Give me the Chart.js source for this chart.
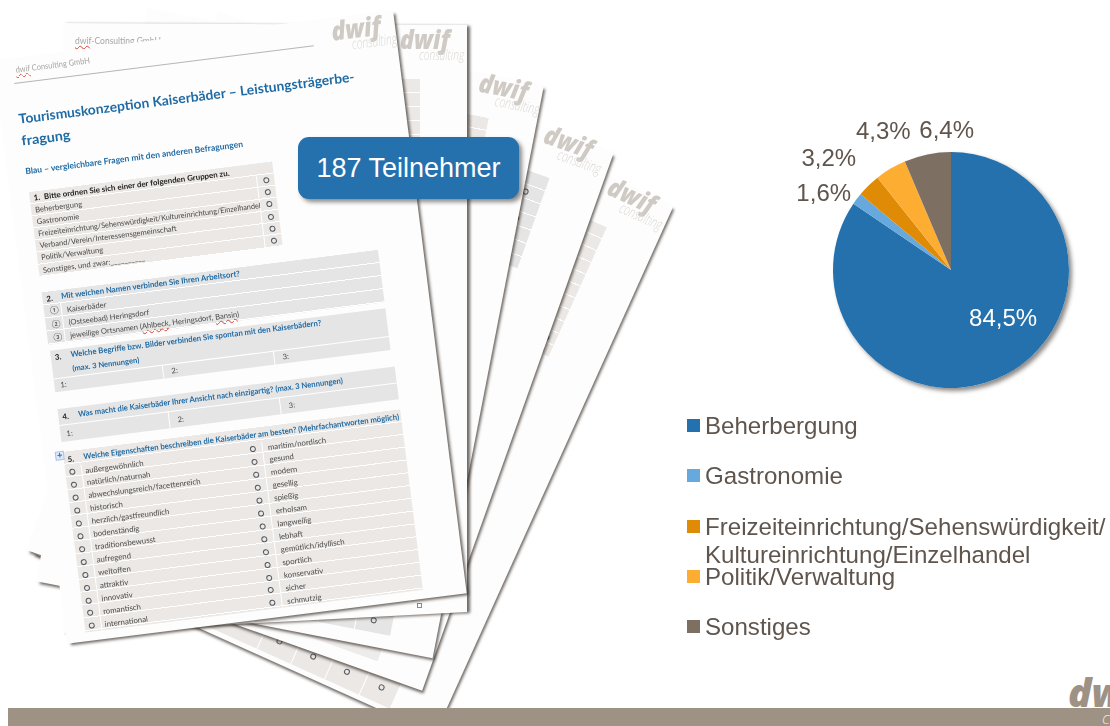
<!DOCTYPE html>
<html lang="de">
<head>
<meta charset="utf-8">
<title>187 Teilnehmer</title>
<script src="https://cdn.jsdelivr.net/npm/chart.js@4"></script>
<style>
html,body{margin:0;padding:0;width:1110px;height:726px;overflow:hidden;background:#fff;font-family:"Liberation Sans",Arial,sans-serif}
div{position:absolute;box-sizing:border-box}
.t{white-space:nowrap;font-family:Lato,"Noto Sans",sans-serif;transform-origin:0 50%}
.page{background:#fdfdfd;box-shadow:3px 3px 3px -1px rgba(50,42,36,.7)}
.o{width:6px;height:6px;border:1.4px solid #555a60;border-radius:50%}
u{text-decoration:underline wavy #d8453a 1px}
#band{left:8px;top:708px;width:1102px;height:18px;background:#9e9285}
#callout{left:298px;top:137px;width:221px;height:62px;background:#2471ad;border-radius:11px;box-shadow:3px 3px 4px rgba(50,42,36,.55);color:#fff;font-size:27px;line-height:62px;text-align:center}
#pie{position:absolute;left:781px;top:100px}
.keytext{left:705px;font-size:24.1px;line-height:28px;color:#5f554d;white-space:pre}
</style>
</head>
<body>
<div id="fan"></div>
<div class="t" style="left:1068px;top:670px;font:italic 800 39px/44px 'Open Sans';color:#9e9285">dwif</div>
<div id="band"></div>
<div class="t" style="left:1102px;top:710px;font:italic 300 17px/16px 'Open Sans';color:#e9e5e0">consulting</div>
<div id="callout">187 Teilnehmer</div>
<canvas id="pie" width="340" height="340"></canvas>
<div id="legend"></div>

<script>
const categories = ["Beherbergung", "Gastronomie", "Freizeiteinrichtung/Sehenswürdigkeit/\nKultureinrichtung/Einzelhandel", "Politik/Verwaltung", "Sonstiges"];
const shares = [84.5, 1.6, 3.2, 4.3, 6.4];
const colors = ["#2471ad", "#67a9dc", "#e08b05", "#fdae32", "#7d6f62"];

const q1Rows = ["Beherbergung", "Gastronomie", "Freizeiteinrichtung/Sehenswürdigkeit/Kultureinrichtung/Einzelhandel", "Verband/Verein/Interessensgemeinschaft", "Politik/Verwaltung", "Sonstiges, und zwar:__________"];
const q2Rows = ["Kaiserbäder", "(Ostseebad) Heringsdorf", "jeweilige Ortsnamen (<u>Ahlbeck</u>, Heringsdorf, <u>Bansin</u>)"];
const q5Left = ["außergewöhnlich", "natürlich/naturnah", "abwechslungsreich/facettenreich", "historisch", "herzlich/gastfreundlich", "bodenständig", "traditionsbewusst", "aufregend", "weltoffen", "attraktiv", "innovativ", "romantisch", "international"];
const q5Right = ["maritim/nordisch", "gesund", "modern", "gesellig", "spießig", "erholsam", "langweilig", "lebhaft", "gemütlich/idyllisch", "sportlich", "konservativ", "sicher", "schmutzig"];

const BLUE = "#1f6ba5", TXT = "#4a4a4a", WARM = "#ebe8e5", GREY = "#e5e5e5";

function box(parent, x, y, w, h, css) {
    const d = document.createElement("div");
    d.style.cssText = `left:${x}px;top:${y}px;width:${w}px;height:${h}px;` + (css || "");
    parent.appendChild(d);
    return d;
}

// text centred on midY, optionally squeezed to a given width
function text(parent, x, midY, str, size, color, weight, fit) {
    const d = document.createElement("div");
    d.className = "t";
    d.style.cssText = `left:${x}px;top:${midY - size * 0.7}px;line-height:${size * 1.4}px;font-size:${size}px;color:${color};font-weight:${weight || 400}`;
    d.innerHTML = str;
    parent.appendChild(d);
    if (fit) d.style.transform = `scaleX(${fit / d.offsetWidth})`;
    return d;
}

function circle(parent, cx, cy) {
    const d = box(parent, cx - 3, cy - 3, 6, 6);
    d.className = "o";
}

function logo(parent, x, base) {
    const a = text(parent, x, base - 9, "dwif", 26, "#cfcac4", 800, 47);
    a.style.fontFamily = "'Open Sans'";
    a.style.fontStyle = "italic";
    const b = text(parent, x + 19, base + 6, "consulting", 15, "#dcd9d5", 300, 45);
    b.style.fontFamily = "'Open Sans'";
    b.style.fontStyle = "italic";
}

// striped table block: white rule every rowH px
function stripes(parent, x, y, w, h, rowH, bg) {
    return box(parent, x, y, w, h, `background:repeating-linear-gradient(${bg} 0 ${rowH - 1}px,#fff ${rowH - 1}px ${rowH}px)`);
}

// page placed by its top right corner, turned around that corner
function makePage(trX, trY, w, h, deg) {
    const p = box(document.getElementById("fan"), trX - w, trY, w, h, `transform-origin:100% 0;transform:rotate(${deg}deg)`);
    p.className = "page";
    return p;
}

const fan = document.getElementById("fan");

// back pages first
const pageE = makePage(674, 205, 442, 581, 24.3);
logo(pageE, 375, 17);
stripes(pageE, 50, 48, 340, 142, 13, WARM);
box(pageE, 50, 546, 340, 30, "background:" + WARM);
[262, 299, 336, 374].forEach(x => {
    circle(pageE, x, 560);
    box(pageE, x - 18, 546, 1, 30, "background:#fff");
});
circle(pageE, 380, 173);
circle(pageE, 380, 186);

const pageD = makePage(614, 152, 420, 572, 19.6);
logo(pageD, 349, 14);
stripes(pageD, 30, 46, 338, 96, 14, GREY);
box(pageD, 30, 536, 338, 23, "background:#eeecea");
circle(pageD, 350, 67);
circle(pageD, 350, 95);

const pageC = makePage(544, 85, 404, 584, 11);
logo(pageC, 340, 18);
text(pageC, 26, 17, "<u>dwif</u>-Consulting GmbH", 8.5, "#a9a6a3");
stripes(pageC, 20, 43, 336, 67, 13, WARM);
box(pageC, 20, 540, 338, 30, "background:" + GREY);
[302, 339].forEach(x => {
    circle(pageC, x, 558);
    box(pageC, x - 18, 540, 1, 30, "background:#fff");
});

// straight page with a slanted lower edge, shadow has to come from a filter
const pageBWrap = box(fan, 63, 23, 404, 592, "filter:drop-shadow(3px 1px 1.5px rgba(50,42,36,.7))");
const pageB = box(pageBWrap, 0, 0, 404, 612, "background:#fdfdfd;clip-path:polygon(0 0,100% 2px,100% 589px,0 610px)");
logo(pageB, 337, 25);
text(pageB, 12, 19, "<u>dwif</u>-Consulting GmbH", 8.5, "#a9a6a3");
stripes(pageB, 20, 56, 337, 58, 14, WARM);
box(pageB, 354, 580, 5, 5, "border:1px solid #8a8a8a");

// front page with the questionnaire
const front = makePage(393, 10, 403, 588, -7.2);
logo(front, 339, 22);
text(front, 21, 13, "<u>dwif</u> Consulting GmbH", 8.5, "#a9a6a3", 400, 75);
box(front, 18, 25, 302, 1, "background:#b8b5b2");
text(front, 18, 61, "Tourismuskonzeption Kaiserbäder – Leistungsträgerbe-", 13.5, BLUE, 700, 338);
text(front, 18, 83, "fragung", 13.5, BLUE, 700, 49);
text(front, 18, 115, "Blau – vergleichbare Fragen mit den anderen Befragungen", 8.5, BLUE, 700, 219);

// question 1
stripes(front, 19, 135, 245, 85.4, 12.2, WARM);
box(front, 246, 147, 1, 73, "background:#fff");
text(front, 23, 141, "1. &nbsp;Bitte ordnen Sie sich einer der folgenden Gruppen zu.", 7.8, "#222", 700, 197);
q1Rows.forEach((r, i) => {
    text(front, 23, 153 + i * 12.2, r, 7.6, TXT, 400, i == 2 ? 224 : undefined);
    circle(front, 256, 153 + i * 12.2);
});

// question 2
stripes(front, 19, 236, 339, 53, 13.2, GREY);
text(front, 23, 243, "2.", 7.8, "#222", 700);
text(front, 38, 243, "Mit welchen Namen verbinden Sie Ihren Arbeitsort?", 8, BLUE, 700, 180);
box(front, 36, 249, 1, 40, "background:#fff");
q2Rows.forEach((r, i) => {
    text(front, 25, 256 + i * 13.2, "①②③"[i], 8, "#444");
    text(front, 42, 256 + i * 13.2, r, 7.6, TXT);
});

// question 3
box(front, 20, 295, 338, 42, "background:" + GREY);
box(front, 20, 323, 338, 1, "background:#fff");
text(front, 24, 302, "3.", 7.8, "#222", 700);
text(front, 40, 302, "Welche Begriffe bzw. Bilder verbinden Sie spontan mit den Kaiserbädern?", 8, BLUE, 700, 252);
text(front, 40, 315, "(max. 3 Nennungen)", 7.6, BLUE, 700);
["1:", "2:", "3:"].forEach((s, i) => {
    text(front, 26 + i * 112, 330, s, 7.6, TXT);
    if (i) box(front, 20 + i * 112 - 3, 323, 1, 14, "background:#fff");
});

// question 4
box(front, 20, 354, 340, 33, "background:" + GREY);
box(front, 20, 370, 340, 1, "background:#fff");
text(front, 24, 362, "4.", 7.8, "#222", 700);
text(front, 40, 362, "Was macht die Kaiserbäder Ihrer Ansicht nach einzigartig? (max. 3 Nennungen)", 8, BLUE, 700, 267);
["1:", "2:", "3:"].forEach((s, i) => {
    text(front, 26 + i * 112, 379, s, 7.6, TXT);
    if (i) box(front, 20 + i * 112 - 3, 370, 1, 17, "background:#fff");
});

// question 5
stripes(front, 20, 397, 340, 182, 12.9, WARM);
text(front, 24, 405, "5.", 7.8, "#222", 700);
text(front, 40, 405, "Welche Eigenschaften beschreiben die Kaiserbäder am besten? (Mehrfachantworten möglich)", 8, BLUE, 700, 318);
box(front, 36, 412, 1, 167, "background:#fff");
box(front, 218, 412, 1, 167, "background:#fff");
q5Left.forEach((s, i) => {
    circle(front, 27, 418 + i * 12.95);
    text(front, 40, 418 + i * 12.95, s, 7.8, TXT);
});
q5Right.forEach((s, i) => {
    circle(front, 209, 418 + i * 12.95);
    text(front, 224, 418 + i * 12.95, s, 7.8, TXT);
});
box(front, 12, 396, 9, 9, "background:#dfe9f7;border:1px solid #aac3e6;color:#2f6fc8;font:bold 9px/7px sans-serif;text-align:center").textContent = "+";

fan.style.cssText = "left:0;top:0;width:1110px;height:726px;filter:blur(.45px)";

// legend next to the pie
const legend = document.getElementById("legend");
categories.forEach((c, i) => {
    const top = 412 + i * 50.25;
    box(legend, 687, top + 7, 13, 13, "background:" + colors[i]);
    const t = document.createElement("div");
    t.className = "keytext";
    t.style.top = top + "px";
    t.textContent = c;
    legend.appendChild(t);
});

// soft shadow behind the whole pie
const pieShadow = {
    id: "pieShadow",
    beforeDatasetsDraw(chart) {
        const arc = chart.getDatasetMeta(0).data[0];
        const g = chart.ctx;
        g.save();
        g.shadowColor = "rgba(50,42,36,.55)";
        g.shadowBlur = 4;
        g.shadowOffsetX = 3;
        g.shadowOffsetY = 3;
        g.fillStyle = "#fff";
        g.beginPath();
        g.arc(arc.x, arc.y, arc.outerRadius, 0, Math.PI * 2);
        g.fill();
        g.restore();
    }
};

// percent labels, placed around each slice's middle angle
const labelNudge = [[19, -13], [-14, 10], [-23, -9], [5, -16], [24, 1]];
const pieLabels = {
    id: "pieLabels",
    afterDatasetsDraw(chart) {
        const g = chart.ctx;
        g.save();
        g.font = '24px "Liberation Sans", Arial, sans-serif';
        g.textAlign = "center";
        g.textBaseline = "middle";
        chart.getDatasetMeta(0).data.forEach((arc, i) => {
            const mid = (arc.startAngle + arc.endAngle) / 2;
            const r = i == 0 ? arc.outerRadius * 0.6 : arc.outerRadius + 24;
            g.fillStyle = i == 0 ? "#fff" : "#5f554d";
            g.fillText(shares[i].toFixed(1).replace(".", ",") + "%",
                arc.x + Math.cos(mid) * r + labelNudge[i][0],
                arc.y + Math.sin(mid) * r + labelNudge[i][1]);
        });
        g.restore();
    }
};

new Chart(document.getElementById("pie"), {
    type: "pie",
    data: {
        labels: categories,
        datasets: [{ data: shares, backgroundColor: colors, borderWidth: 0, radius: 118 }]
    },
    options: {
        responsive: false,
        animation: false,
        plugins: { legend: { display: false }, tooltip: { enabled: false } }
    },
    plugins: [pieShadow, pieLabels]
});
</script>
</body>
</html>
